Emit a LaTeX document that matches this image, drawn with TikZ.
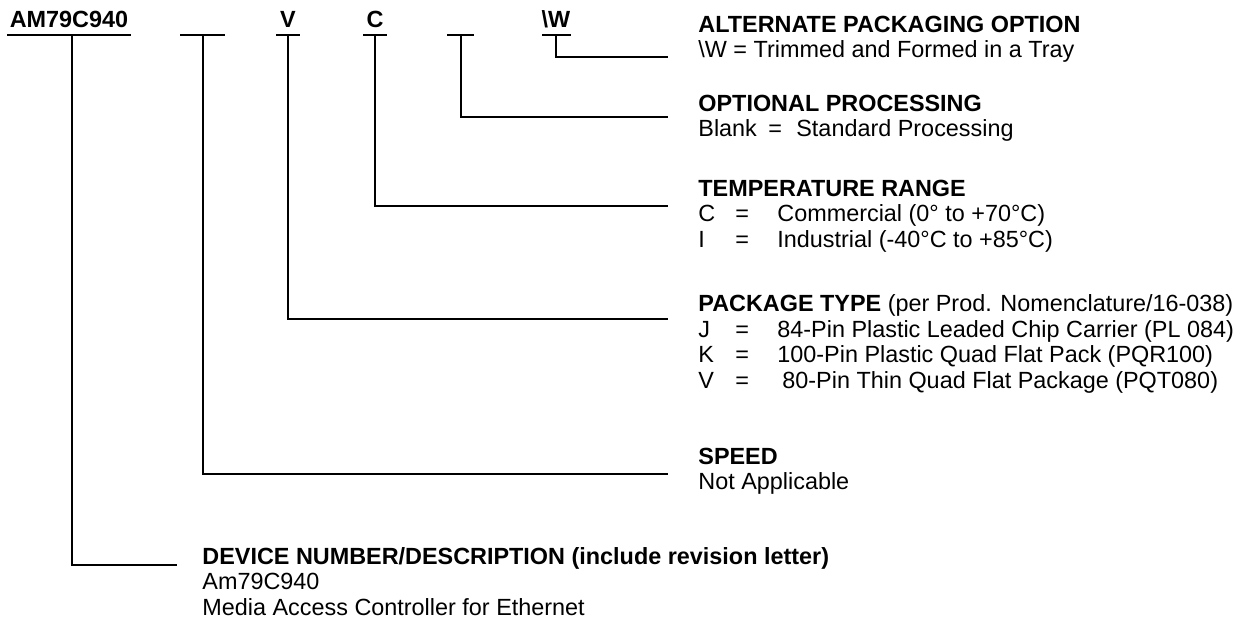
\documentclass[tikz,border=0pt]{standalone}
\usepackage{fontspec}
\setmainfont{Liberation Sans}
\usetikzlibrary{positioning}

\newcommand{\keycol}[3]{\makebox[18.5pt][l]{#1}\makebox[21pt][l]{#2}#3}

\begin{document}
\begin{tikzpicture}[x=0.5pt,y=-0.5pt,
    bar/.style={line width=1.25pt},
    lead/.style={line width=1.25pt},
    code/.style={font=\fontsize{11.7}{12.75}\selectfont\bfseries, anchor=base, inner sep=0pt},
    desc/.style={font=\fontsize{11.7}{12.75}\selectfont, anchor=base west, inner sep=0pt, align=left}]
  \useasboundingbox (0,0) rectangle (1255,633);

  % part number fields
  \node[code] (devCode) at (69,27) {AM79C940};
  \node[code] (pkgCode) at (288,27) {V};
  \node[code] (tempCode) at (375,27) {C};
  \node[code] (altCode) at (556,27) {\textbackslash W};
  \foreach \l/\r in {7/131,180/225,276/300,363/387,447/474,542/571}
    \draw[bar] (\l,35) -- (\r,35);

  % where the leaders leave the bars
  \coordinate (devTop) at (72,35);
  \coordinate (speedTop) at (203,35);
  \coordinate (pkgTop) at (288,35);
  \coordinate (tempTop) at (375,35);
  \coordinate (procTop) at (461,35);
  \coordinate (altTop) at (556,35);

  % where the leaders stop
  \coordinate (altEnd) at (668,57);
  \coordinate (procEnd) at (668,117);
  \coordinate (tempEnd) at (668,206);
  \coordinate (pkgEnd) at (668,319);
  \coordinate (speedEnd) at (668,474);
  \coordinate (devEnd) at (177,565);

  % descriptions (placed on the baseline of their last line)
  \node[desc] (altTxt) at (698,57.5) {\textbf{ALTERNATE PACKAGING OPTION}\\
    \textbackslash W = Trimmed and Formed in a Tray};
  \node[desc] (procTxt) at (698,136.5) {\textbf{OPTIONAL PROCESSING}\\
    \makebox[35pt][l]{Blank}\makebox[14pt][l]{=}Standard Processing};
  \node[desc] (tempTxt) at (698,247) {\textbf{TEMPERATURE RANGE}\\
    \keycol{C}{=}{Commercial (0\textdegree{} to +70\textdegree C)}\\
    \keycol{I}{=}{Industrial (-40\textdegree C to +85\textdegree C)}};
  \node[desc] (pkgTxt) at (698,388) {\textbf{PACKAGE TYPE} (per Prod. Nomenclature/16-038)\\
    \keycol{J}{=}{84-Pin Plastic Leaded Chip Carrier (PL 084)}\\
    \keycol{K}{=}{100-Pin Plastic Quad Flat Pack (PQR100)}\\
    \keycol{V}{=}{\hspace{2.5pt}80-Pin Thin Quad Flat Package (PQT080)}};
  \node[desc] (speedTxt) at (698,489.5) {\textbf{SPEED}\\Not Applicable};
  \node[desc] (devTxt) at (202,615) {\textbf{DEVICE NUMBER/DESCRIPTION (include revision letter)}\\
    Am79C940\\Media Access Controller for Ethernet};

  % leaders
  \draw[lead] (altTop) |- (altEnd);
  \draw[lead] (procTop) |- (procEnd);
  \draw[lead] (tempTop) |- (tempEnd);
  \draw[lead] (pkgTop) |- (pkgEnd);
  \draw[lead] (speedTop) |- (speedEnd);
  \draw[lead] (devTop) |- (devEnd);
\end{tikzpicture}
\end{document}
